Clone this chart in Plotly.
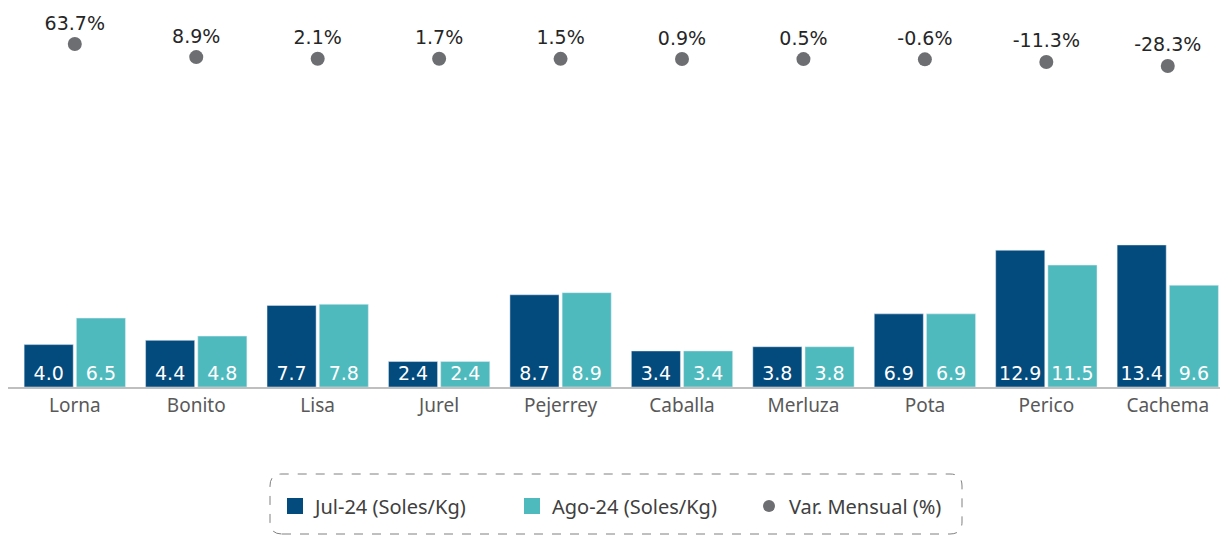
import plotly.graph_objects as go

categories = ["Lorna", "Bonito", "Lisa", "Jurel", "Pejerrey", "Caballa", "Merluza", "Pota", "Perico", "Cachema"]
jul24 = [4.0, 4.4, 7.7, 2.4, 8.7, 3.4, 3.8, 6.9, 12.9, 13.4]
ago24 = [6.5, 4.8, 7.8, 2.4, 8.9, 3.4, 3.8, 6.9, 11.5, 9.6]
var_mensual = [63.7, 8.9, 2.1, 1.7, 1.5, 0.9, 0.5, -0.6, -11.3, -28.3]

C_JUL = "#034a7d"
C_AGO = "#4fbabd"
C_DOT = "#6d6e71"
FONT = "Noto Sans"
NUMFONT = "DejaVu Sans"

fig = go.Figure()

fig.add_trace(go.Bar(
    x=categories, y=jul24, name="Jul-24 (Soles/Kg)", marker_color=C_JUL,
    text=[f"{v:.1f}" for v in jul24], textposition="inside", insidetextanchor="start",
    textfont=dict(color="white", size=19, family=NUMFONT), constraintext="none",
    showlegend=False, cliponaxis=False,
))
fig.add_trace(go.Bar(
    x=categories, y=ago24, name="Ago-24 (Soles/Kg)", marker_color=C_AGO,
    text=[f"{v:.1f}" for v in ago24], textposition="inside", insidetextanchor="start",
    textfont=dict(color="white", size=19, family=NUMFONT), constraintext="none",
    showlegend=False, cliponaxis=False,
))
fig.add_trace(go.Scatter(
    x=categories, y=var_mensual, yaxis="y2", mode="markers+text",
    name="Var. Mensual (%)", marker=dict(color=C_DOT, size=14),
    text=[f"{v:.1f}%" for v in var_mensual], textposition="top center",
    textfont=dict(color="#262626", size=19, family=NUMFONT),
    showlegend=False, cliponaxis=False,
))

# legend entries
fig.add_trace(go.Scatter(x=[None], y=[None], mode="markers", name="Jul-24 (Soles/Kg)",
                         marker=dict(symbol="square", size=16, color=C_JUL)))
fig.add_trace(go.Scatter(x=[None], y=[None], mode="markers", name="Ago-24 (Soles/Kg)",
                         marker=dict(symbol="square", size=16, color=C_AGO)))
fig.add_trace(go.Scatter(x=[None], y=[None], mode="markers", name="Var. Mensual (%)",
                         marker=dict(symbol="circle", size=12, color=C_DOT)))

L, T, B = 8, 10, 149
W, H = 1220, 536
pw = W - L
ph = H - T - B

x0 = (270 - L) / pw
x1 = (962 - L) / pw
y0 = -(534 - (H - B)) / ph
y1 = -(474 - (H - B)) / ph
rx = 12 / pw
ry = 12 / ph
path = (f"M {x0+rx},{y0} L {x1-rx},{y0} Q {x1},{y0} {x1},{y0+ry} "
        f"L {x1},{y1-ry} Q {x1},{y1} {x1-rx},{y1} L {x0+rx},{y1} "
        f"Q {x0},{y1} {x0},{y1-ry} L {x0},{y0+ry} Q {x0},{y0} {x0+rx},{y0} Z")

fig.update_layout(
    width=W, height=H,
    margin=dict(l=L, r=0, t=T, b=B),
    paper_bgcolor="white", plot_bgcolor="white",
    barmode="group", bargap=0.14, bargroupgap=0.06,
    font=dict(family=FONT, color="#595959"),
    xaxis=dict(range=[-0.55, 9.43], showline=True, linecolor="#bfbfbf", linewidth=1.5,
               ticks="", tickfont=dict(size=19, color="#595959", family=FONT),
               showgrid=False, zeroline=False),
    yaxis=dict(range=[0, ph / 10.6], visible=False, showgrid=False, zeroline=False),
    yaxis2=dict(range=[63.7 - (H - B - 44) / 0.239, 63.7 + (44 - T) / 0.239],
                overlaying="y", visible=False, showgrid=False, zeroline=False),
    legend=dict(orientation="h", x=(275 - L) / pw, xanchor="left",
                y=-(506 - (H - B)) / ph, yanchor="middle",
                font=dict(size=20, color="#404040", family=FONT),
                bgcolor="rgba(0,0,0,0)", entrywidth=192, entrywidthmode="pixels"),
    shapes=[dict(type="path", path=path, xref="paper", yref="paper",
                 line=dict(color="#808080", width=1, dash="dash"))],
)

fig.write_html("out.html", config={"displayModeBar": False},
               post_script="document.body.style.margin='0';document.body.style.overflow='hidden';")
